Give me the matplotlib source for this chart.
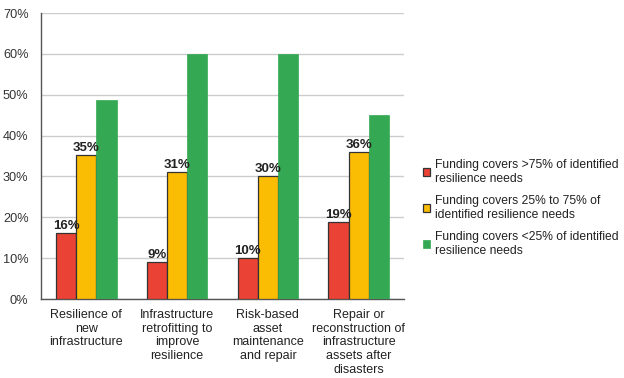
import numpy as np
import matplotlib
matplotlib.use("Agg")
import matplotlib.pyplot as plt

plt.rcParams['font.family'] = ['Liberation Sans', 'DejaVu Sans']

categories = ["Resilience of\nnew\ninfrastructure",
              "Infrastructure\nretrofitting to\nimprove\nresilience",
              "Risk-based\nasset\nmaintenance\nand repair",
              "Repair or\nreconstruction of\ninfrastructure\nassets after\ndisasters"]
high = [16.2, 9.0, 10.0, 18.9]      # >75% covered
mid = [35.2, 31.0, 30.0, 35.9]      # 25-75% covered
low = [48.6, 60.0, 60.0, 45.0]      # <25% covered
high_lbl = ["16%", "9%", "10%", "19%"]
mid_lbl = ["35%", "31%", "30%", "36%"]
series_names = ["Funding covers >75% of identified\nresilience needs",
                "Funding covers 25% to 75% of\nidentified resilience needs",
                "Funding covers <25% of identified\nresilience needs"]

fig = plt.figure(figsize=(6.24, 3.78), dpi=100)
ax = fig.add_axes([41/624, 1 - 299/378, 363/624, 286/378])

x = np.arange(len(categories))
w = 0.222
b1 = ax.bar(x - w, high, w, color="#EA4335", edgecolor="#333333", linewidth=0.9, zorder=3)
b2 = ax.bar(x, mid, w, color="#FBBC04", edgecolor="#333333", linewidth=0.9, zorder=3)
b3 = ax.bar(x + w, low, w, color="#34A853", edgecolor="#34A853", linewidth=0.5, zorder=3)

# value labels only on red/yellow bars
for xi, v, t in zip(x - w, high, high_lbl):
    ax.text(xi, v + 0.3, t, ha="center", va="bottom", fontsize=9.5, fontweight="bold", color="#222222")
for xi, v, t in zip(x, mid, mid_lbl):
    ax.text(xi, v + 0.3, t, ha="center", va="bottom", fontsize=9.5, fontweight="bold", color="#222222")

ax.set_xlim(-0.5, 3.5)
ax.set_ylim(0, 70)
ax.set_yticks(range(0, 71, 10))
ax.set_yticklabels([f"{t}%" for t in range(0, 71, 10)], fontsize=9.2, color="#333333")
ax.set_xticks(x)
ax.set_xticklabels(categories, fontsize=9, color="#222222", va="top", linespacing=1.2)
ax.tick_params(axis="y", length=0, pad=9)
ax.tick_params(axis="x", length=0, pad=7)
ax.grid(axis="y", color="#CCCCCC", linewidth=1.0, zorder=0)
for s in ["top", "right"]:
    ax.spines[s].set_visible(False)
ax.spines["left"].set_color("#555555")
ax.spines["bottom"].set_color("#555555")
ax.spines["left"].set_linewidth(1.0)
ax.spines["bottom"].set_linewidth(1.0)

leg = fig.legend([b1, b2, b3], series_names, loc="upper left",
                 bbox_to_anchor=(412/624, 1 - 148/378), frameon=False,
                 fontsize=8.7, handlelength=0.6, handleheight=0.6,
                 handletextpad=0.4, labelspacing=0.85)
for t in leg.get_texts():
    t.set_linespacing(1.2)
    t.set_color("#222222")

fig.savefig("out.png", dpi=100, facecolor="white")
